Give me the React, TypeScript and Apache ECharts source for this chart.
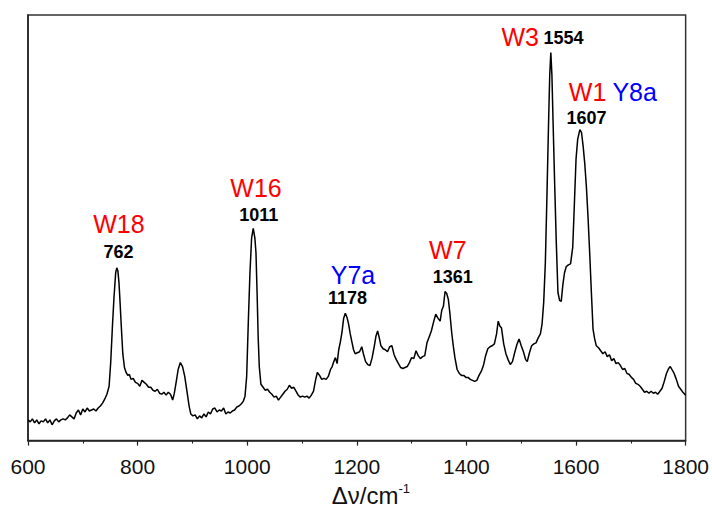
import React, { useEffect, useRef } from "react";
import * as echarts from "echarts";

const wavenumbers = [
  600, 604, 608, 612, 616, 620, 624, 628, 632, 636, 640, 644, 648, 652, 656, 660, 664, 668, 672, 676,
  680, 684, 688, 692, 696, 700, 704, 708, 712, 716, 720, 724, 728, 732, 736, 740, 744, 748, 751, 754,
  757, 760, 762, 764, 766, 768, 770, 773, 776, 779, 782, 785, 788, 792, 796, 800, 804, 808, 812, 816,
  820, 824, 828, 832, 836, 840, 844, 848, 852, 856, 860, 864, 867, 870, 874, 878, 882, 886, 890, 894,
  897, 901, 905, 909, 913, 917, 921, 925, 929, 933, 937, 941, 945, 949, 953, 957, 961, 965, 969, 973,
  977, 981, 985, 989, 993, 996, 999, 1002, 1005, 1008, 1011, 1014, 1016, 1018, 1020, 1022, 1025, 1029, 1033, 1037,
  1041, 1045, 1049, 1053, 1057, 1061, 1065, 1069, 1073, 1077, 1081, 1085, 1089, 1093, 1097, 1101, 1105, 1109, 1113, 1117,
  1121, 1125, 1128, 1132, 1136, 1140, 1144, 1148, 1152, 1155, 1158, 1161, 1164, 1167, 1170, 1173, 1176, 1179, 1182, 1185,
  1188, 1191, 1194, 1197, 1201, 1205, 1209, 1212, 1216, 1220, 1224, 1228, 1232, 1235, 1238, 1241, 1244, 1248, 1252, 1256,
  1260, 1264, 1268, 1272, 1276, 1280, 1284, 1288, 1292, 1296, 1300, 1304, 1308, 1312, 1316, 1320, 1324, 1328, 1332, 1336,
  1340, 1344, 1348, 1352, 1355, 1358, 1361, 1364, 1367, 1370, 1373, 1376, 1379, 1383, 1387, 1391, 1395, 1399, 1403, 1407,
  1411, 1415, 1419, 1423, 1427, 1431, 1435, 1439, 1443, 1447, 1451, 1455, 1458, 1461, 1464, 1468, 1472, 1476, 1480, 1484,
  1488, 1492, 1496, 1500, 1504, 1508, 1511, 1515, 1519, 1523, 1527, 1531, 1535, 1538, 1541, 1544, 1547, 1550, 1552, 1554,
  1556, 1558, 1561, 1564, 1567, 1570, 1573, 1576, 1579, 1582, 1586, 1590, 1594, 1597, 1600, 1603, 1607, 1610, 1613, 1616,
  1619, 1622, 1625, 1628, 1631, 1634, 1637, 1641, 1645, 1649, 1653, 1657, 1661, 1665, 1669, 1673, 1677, 1681, 1685, 1689,
  1693, 1697, 1701, 1705, 1709, 1713, 1717, 1721, 1725, 1729, 1733, 1737, 1741, 1745, 1749, 1753, 1757, 1761, 1765, 1769,
  1772, 1775, 1779, 1783, 1787, 1791, 1795, 1800,
];

const intensities = [
  21, 19, 22, 18, 21, 17, 20, 19, 22, 18, 21, 16, 20, 22, 19, 21, 22, 21, 23, 26,
  24, 22, 28, 31, 26, 32, 29, 33, 30, 31, 32, 30, 33, 35, 38, 42, 47, 55, 80, 115,
  146, 170, 175, 172, 160, 140, 118, 88, 74, 69, 66, 67, 62, 63, 59, 58, 55, 61, 59, 57,
  54, 54, 51, 50, 52, 48, 47, 49, 46, 49, 47, 41, 48, 58, 72, 79, 75, 65, 50, 35,
  27, 25, 26, 22, 25, 23, 27, 24, 29, 27, 32, 33, 29, 31, 30, 33, 27, 29, 28, 30,
  31, 34, 35, 37, 40, 45, 65, 120, 170, 205, 215, 205, 190, 150, 105, 75, 57, 54, 51, 52,
  49, 47, 44, 45, 41, 44, 47, 50, 52, 56, 53, 54, 50, 46, 44, 45, 44, 45, 43, 46,
  50, 62, 69, 66, 62, 63, 62, 65, 72, 75, 80, 84, 78, 92, 100, 110, 124, 129, 125, 118,
  108, 100, 92, 88, 89, 90, 95, 88, 80, 77, 76, 84, 96, 106, 111, 104, 96, 93, 92, 90,
  95, 96, 87, 82, 78, 74, 73, 74, 75, 79, 84, 83, 91, 86, 83, 85, 86, 99, 105, 111,
  120, 128, 124, 121, 132, 136, 151, 149, 143, 128, 110, 96, 84, 72, 68, 66, 66, 64, 64, 62,
  61, 60, 61, 66, 70, 76, 86, 93, 95, 96, 98, 108, 121, 116, 114, 98, 88, 82, 77, 80,
  89, 97, 103, 96, 90, 82, 80, 89, 96, 98, 99, 104, 108, 118, 140, 180, 250, 325, 370, 393,
  370, 325, 260, 200, 150, 142, 141, 158, 170, 176, 178, 179, 196, 240, 285, 305, 315, 312, 298, 280,
  256, 225, 189, 150, 113, 103, 96, 94, 91, 88, 90, 85, 87, 81, 83, 78, 79, 76, 72, 73,
  68, 67, 64, 62, 58, 57, 55, 52, 49, 50, 48, 50, 48, 49, 47, 50, 53, 60, 68, 73,
  75, 72, 68, 62, 55, 52, 49, 46,
];

// Peak annotations (text, position in data space, kind)
const labelTexts = ["W18", "762", "W16", "1011", "Y7a", "1178", "W7", "1361", "W3", "1554", "W1", "Y8a", "1607"];
const labelW = [766, 765, 1016, 1021, 1193, 1183, 1366, 1375, 1498, 1577, 1621, 1707, 1619];
const labelV = [219, 191, 256, 228, 168, 144, 193, 166, 409, 408, 353, 353, 327];
const labelKinds = ["red", "num", "red", "num", "blue", "num", "red", "num", "red", "num", "red", "blue", "num"];

const xTicks = { min: 600, max: 1800, interval: 200 };

const FONT = "Liberation Sans, Arial, Helvetica, sans-serif";

export default function App() {
  const ref = useRef<HTMLDivElement>(null);

  useEffect(() => {
    if (!ref.current) return;
    const chart = echarts.init(ref.current, null, { renderer: "svg" });

    const lineData = wavenumbers.map((w, i) => [w, intensities[i]]);
    const kindStyle: Record<string, any> = {
      red: { color: "#ff0000", fontSize: 25, fontWeight: "normal" },
      blue: { color: "#0000ff", fontSize: 25, fontWeight: "normal" },
      num: { color: "#000000", fontSize: 18, fontWeight: "bold" },
    };
    const labelData = labelTexts.map((t, i) => ({
      value: [labelW[i], labelV[i]],
      name: t,
      label: {
        show: true,
        position: "inside",
        formatter: t,
        align: "center",
        verticalAlign: "middle",
        fontFamily: FONT,
        opacity: 1,
        textBorderWidth: 0,
        textShadowBlur: 0,
        ...kindStyle[labelKinds[i]],
      },
    }));

    chart.setOption({
      animation: false,
      grid: {
        left: 28,
        right: 24,
        top: 15,
        bottom: 66,
        show: true,
        borderColor: "#333",
        borderWidth: 1.5,
        backgroundColor: "transparent",
      },
      xAxis: {
        type: "value",
        min: xTicks.min,
        max: xTicks.max,
        interval: xTicks.interval,
        axisLine: { show: true, lineStyle: { color: "#222", width: 1.5 } },
        axisTick: { show: true, inside: false, length: 5, lineStyle: { color: "#222", width: 1.2 } },
        minorTick: { show: true, splitNumber: 2, length: 3, lineStyle: { color: "#222", width: 1 } },
        splitLine: { show: false },
        axisLabel: {
          color: "#111",
          fontSize: 21,
          fontFamily: FONT,
          margin: 15,
          formatter: (v: number) => String(v),
        },
        name: "{a|Δν/cm}{s|-1}",
        nameLocation: "middle",
        nameGap: 38,
        nameTextStyle: {
          padding: [0, 0, 0, 28],
          rich: {
            a: { fontSize: 24, color: "#111", fontFamily: FONT },
            s: { fontSize: 13, color: "#111", fontFamily: FONT, verticalAlign: "top", padding: [0, 0, 14, 0] },
          },
        },
      },
      yAxis: {
        type: "value",
        min: 0,
        max: 431,
        axisLine: { show: true, lineStyle: { color: "#222", width: 1.5 } },
        axisTick: { show: false },
        axisLabel: { show: false },
        splitLine: { show: false },
      },
      series: [
        {
          type: "line",
          data: lineData,
          showSymbol: false,
          symbol: "none",
          lineStyle: { color: "#000", width: 1.5 },
          z: 2,
        },
        {
          type: "scatter",
          data: labelData,
          symbolSize: 0,
          silent: true,
          itemStyle: { opacity: 1 },
          z: 3,
        },
      ],
    });

    return () => chart.dispose();
  }, []);

  return <div ref={ref} style={{ width: 712, height: 512, position: "absolute", left: 0, top: 0 }} />;
}
